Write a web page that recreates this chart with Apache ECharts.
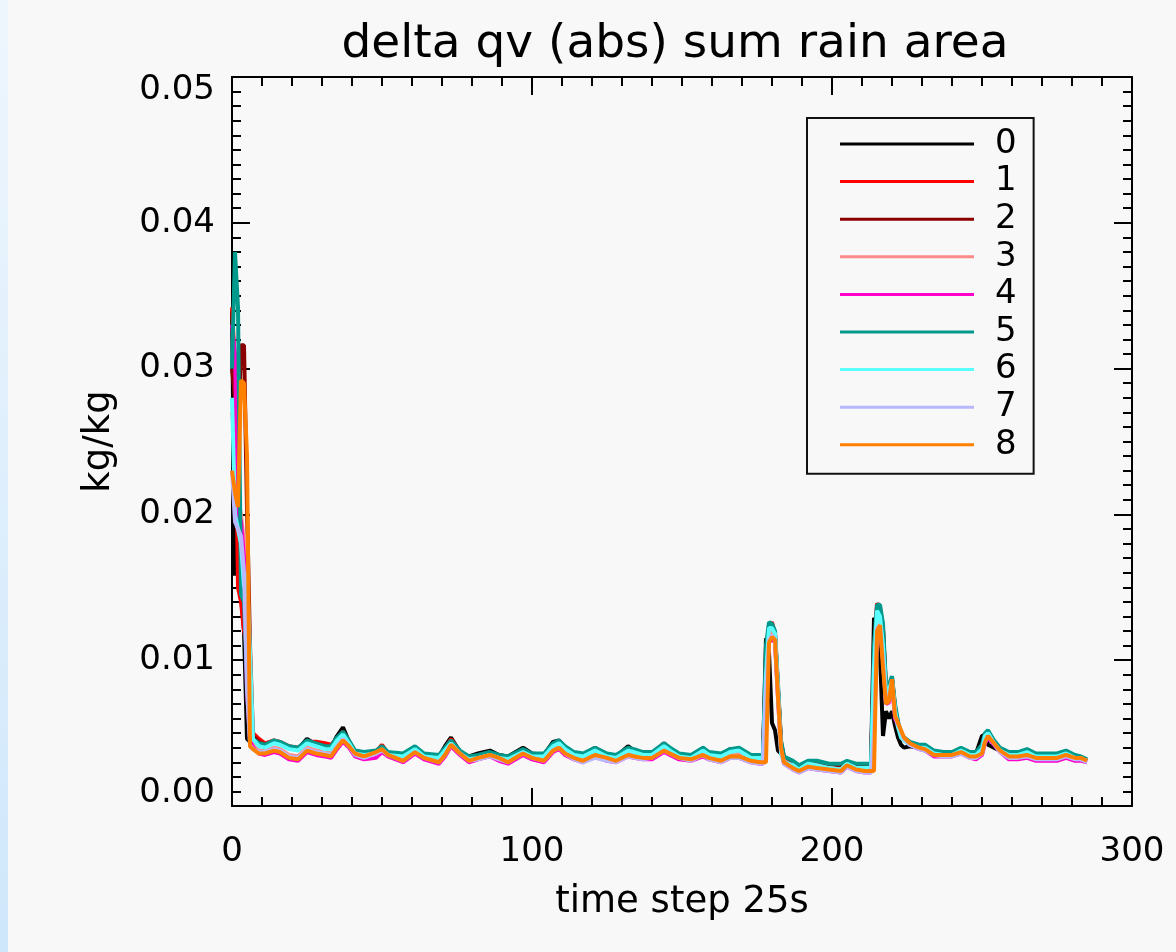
<!DOCTYPE html>
<html>
<head>
<meta charset="utf-8">
<script src="https://cdn.jsdelivr.net/npm/echarts@6/dist/echarts.min.js"></script>
<style>
html,body{margin:0;padding:0;background:#f8f8f8;}
#chart{width:1176px;height:952px;}
</style>
</head>
<body>
<div id="chart"></div>
<script>
// time steps (x values, "time step 25s")
var T = [0,1,2,3,4,5,6,7,
  9,11,14,16,19,22,25,28,31,33,
  35,37,39,41,44,48,50,52,57,61,
  64,69,71,73,76,79,82,86,89,92,
  97,100,104,107,109,111,114,117,121,125,
  128,132,134,137,140,144,146,149,153,157,
  159,163,166,169,173,176,177,178,179,180,
  181,182,183,184,187,189,192,195,199,203,
  205,208,211,213,214,215,216,217,218,219,
  220,221,222,223,224,226,229,231,234,237,
  240,243,246,248,250,251,252,254,256,259,
  262,265,268,272,275,278,281,283,285];

var NAMES = ['0','1','2','3','4','5','6','7','8'];
var COLORS = ['#000000','#ff0000','#8b0000','#ff8a8a','#ff00cc','#00998c','#5cffff','#b8b8ff','#ff7f00'];

var s0 = [.0340,.0158,.0180,.0145,.0120,.0046,.0044,.0043,
  .0042,.0041,.0044,.0043,.0040,.0039,.0046,.0042,.0040,.0040,
  .0048,.0054,.0044,.0037,.0035,.0036,.0040,.0036,.0035,.0040,
  .0035,.0034,.0041,.0047,.0037,.0034,.0036,.0038,.0035,.0034,
  .0040,.0036,.0035,.0044,.0045,.0040,.0036,.0035,.0040,.0035,
  .0034,.0041,.0038,.0036,.0036,.0043,.0039,.0035,.0034,.0039,
  .0036,.0035,.0039,.0039,.0034,.0034,.0034,.0115,.0105,.0057,
  .0052,.0038,.0036,.0033,.0030,.0027,.0030,.0030,.0028,.0028,
  .0030,.0028,.0028,.0029,.0129,.0127,.0105,.0048,.0065,.0060,
  .0065,.0055,.0047,.0042,.0040,.0041,.0040,.0040,.0036,.0036,
  .0036,.0039,.0036,.0036,.0048,.0049,.0042,.0040,.0038,.0036,
  .0036,.0038,.0035,.0035,.0035,.0037,.0034,.0033,.0031];

var s1 = [.0342,.0300,.0150,.0140,.0120,.0110,.0052,.0050,
  .0046,.0043,.0045,.0044,.0041,.0040,.0044,.0044,.0043,.0042,
  .0046,.0051,.0044,.0037,.0035,.0037,.0042,.0036,.0034,.0040,
  .0035,.0034,.0039,.0046,.0037,.0033,.0034,.0036,.0034,.0033,
  .0038,.0035,.0035,.0042,.0044,.0040,.0036,.0035,.0039,.0035,
  .0034,.0039,.0038,.0036,.0036,.0042,.0039,.0035,.0034,.0039,
  .0036,.0035,.0038,.0039,.0034,.0034,.0034,.0100,.0124,.0126,
  .0118,.0080,.0044,.0033,.0029,.0027,.0030,.0029,.0028,.0028,
  .0030,.0028,.0028,.0028,.0105,.0139,.0136,.0122,.0080,.0082,
  .0088,.0068,.0056,.0049,.0046,.0043,.0041,.0041,.0037,.0036,
  .0036,.0039,.0036,.0036,.0041,.0049,.0051,.0044,.0039,.0036,
  .0035,.0037,.0034,.0034,.0034,.0036,.0033,.0032,.0031];

var s2 = [.0300,.0280,.0250,.0316,.0316,.0205,.0110,.0048,
  .0044,.0042,.0044,.0043,.0040,.0039,.0043,.0042,.0041,.0040,
  .0046,.0050,.0043,.0036,.0035,.0036,.0041,.0036,.0034,.0039,
  .0035,.0033,.0039,.0045,.0036,.0033,.0034,.0036,.0034,.0033,
  .0038,.0035,.0035,.0042,.0044,.0039,.0036,.0035,.0038,.0035,
  .0034,.0039,.0037,.0036,.0036,.0042,.0038,.0035,.0034,.0038,
  .0036,.0035,.0038,.0038,.0034,.0034,.0034,.0095,.0122,.0123,
  .0117,.0080,.0043,.0033,.0029,.0027,.0030,.0029,.0028,.0027,
  .0030,.0028,.0028,.0028,.0100,.0135,.0134,.0120,.0080,.0081,
  .0087,.0067,.0056,.0049,.0046,.0043,.0041,.0040,.0037,.0036,
  .0036,.0039,.0036,.0036,.0040,.0048,.0050,.0044,.0039,.0036,
  .0035,.0037,.0034,.0034,.0034,.0036,.0033,.0032,.0031];

var s3 = [.0270,.0250,.0210,.0200,.0180,.0090,.0046,.0042,
  .0038,.0038,.0040,.0039,.0035,.0034,.0040,.0038,.0037,.0036,
  .0042,.0047,.0042,.0037,.0035,.0037,.0040,.0036,.0033,.0038,
  .0034,.0032,.0037,.0043,.0037,.0032,.0033,.0035,.0033,.0031,
  .0037,.0034,.0032,.0039,.0041,.0037,.0034,.0032,.0036,.0034,
  .0032,.0036,.0035,.0034,.0034,.0039,.0037,.0034,.0033,.0036,
  .0034,.0032,.0035,.0035,.0032,.0031,.0031,.0085,.0118,.0119,
  .0116,.0078,.0040,.0031,.0027,.0025,.0028,.0027,.0026,.0025,
  .0029,.0026,.0025,.0025,.0060,.0125,.0128,.0110,.0075,.0076,
  .0086,.0064,.0056,.0050,.0045,.0042,.0040,.0039,.0036,.0035,
  .0035,.0037,.0034,.0034,.0037,.0045,.0049,.0043,.0038,.0034,
  .0034,.0035,.0033,.0033,.0033,.0035,.0032,.0032,.0030];

var s4 = [.0330,.0310,.0200,.0195,.0170,.0080,.0045,.0040,
  .0036,.0035,.0037,.0036,.0032,.0031,.0037,.0035,.0034,.0033,
  .0039,.0044,.0040,.0034,.0032,.0033,.0037,.0034,.0030,.0036,
  .0032,.0029,.0034,.0041,.0035,.0030,.0032,.0034,.0031,.0029,
  .0035,.0032,.0030,.0037,.0039,.0035,.0032,.0030,.0034,.0031,
  .0030,.0034,.0033,.0032,.0032,.0037,.0035,.0032,.0031,.0034,
  .0032,.0030,.0033,.0033,.0030,.0029,.0029,.0080,.0112,.0115,
  .0112,.0074,.0038,.0029,.0025,.0023,.0026,.0025,.0024,.0023,
  .0027,.0024,.0023,.0023,.0050,.0120,.0123,.0100,.0070,.0071,
  .0084,.0060,.0055,.0050,.0046,.0042,.0039,.0038,.0034,.0034,
  .0034,.0036,.0033,.0032,.0035,.0043,.0047,.0042,.0037,.0032,
  .0032,.0033,.0031,.0031,.0031,.0033,.0031,.0031,.0030];

var s5 = [.0300,.0380,.0342,.0145,.0140,.0090,.0047,.0046,
  .0043,.0042,.0045,.0044,.0041,.0040,.0045,.0043,.0041,.0041,
  .0047,.0051,.0045,.0038,.0037,.0038,.0041,.0037,.0036,.0041,
  .0036,.0035,.0040,.0045,.0038,.0034,.0035,.0037,.0035,.0034,
  .0039,.0036,.0036,.0043,.0045,.0041,.0037,.0036,.0040,.0036,
  .0035,.0040,.0039,.0037,.0037,.0043,.0040,.0036,.0035,.0040,
  .0037,.0036,.0039,.0040,.0035,.0035,.0035,.0110,.0126,.0125,
  .0120,.0084,.0045,.0034,.0031,.0028,.0031,.0031,.0029,.0029,
  .0031,.0029,.0029,.0029,.0110,.0138,.0138,.0125,.0083,.0083,
  .0089,.0070,.0058,.0050,.0047,.0044,.0042,.0042,.0038,.0037,
  .0037,.0040,.0037,.0037,.0042,.0050,.0052,.0045,.0040,.0037,
  .0037,.0039,.0036,.0036,.0036,.0038,.0035,.0034,.0032];

var s6 = [.0280,.0200,.0190,.0180,.0150,.0160,.0105,.0046,
  .0041,.0040,.0043,.0042,.0039,.0038,.0043,.0041,.0039,.0039,
  .0045,.0049,.0043,.0036,.0035,.0036,.0039,.0035,.0034,.0039,
  .0034,.0033,.0038,.0043,.0036,.0032,.0033,.0035,.0033,.0032,
  .0037,.0034,.0034,.0041,.0043,.0039,.0035,.0034,.0038,.0034,
  .0033,.0038,.0037,.0035,.0035,.0041,.0038,.0034,.0033,.0038,
  .0035,.0034,.0037,.0038,.0033,.0033,.0033,.0090,.0122,.0122,
  .0118,.0080,.0036,.0030,.0028,.0025,.0029,.0028,.0026,.0025,
  .0029,.0026,.0026,.0026,.0095,.0134,.0130,.0110,.0078,.0080,
  .0086,.0066,.0054,.0047,.0045,.0042,.0040,.0040,.0036,.0035,
  .0035,.0038,.0035,.0035,.0039,.0048,.0050,.0043,.0038,.0035,
  .0035,.0037,.0034,.0034,.0034,.0036,.0033,.0032,.0031];

var s7 = [.0230,.0195,.0190,.0185,.0160,.0080,.0042,.0039,
  .0037,.0037,.0039,.0038,.0034,.0033,.0039,.0037,.0036,.0035,
  .0041,.0046,.0041,.0035,.0033,.0036,.0038,.0035,.0031,.0037,
  .0033,.0030,.0035,.0042,.0036,.0031,.0032,.0034,.0032,.0030,
  .0036,.0033,.0031,.0038,.0040,.0036,.0032,.0030,.0033,.0031,
  .0030,.0034,.0033,.0032,.0033,.0038,.0036,.0033,.0031,.0035,
  .0032,.0030,.0033,.0033,.0030,.0029,.0029,.0080,.0114,.0117,
  .0114,.0076,.0039,.0029,.0025,.0023,.0026,.0025,.0024,.0023,
  .0027,.0024,.0023,.0023,.0050,.0122,.0124,.0100,.0072,.0074,
  .0086,.0062,.0056,.0051,.0046,.0042,.0039,.0038,.0035,.0034,
  .0034,.0036,.0033,.0033,.0036,.0044,.0048,.0043,.0037,.0033,
  .0033,.0034,.0032,.0032,.0032,.0034,.0032,.0032,.0030];

var s8 = [.0230,.0215,.0205,.0292,.0290,.0240,.0041,.0039,
  .0036,.0036,.0038,.0037,.0033,.0032,.0038,.0036,.0035,.0034,
  .0040,.0045,.0041,.0036,.0034,.0037,.0039,.0035,.0031,.0037,
  .0033,.0030,.0035,.0042,.0036,.0031,.0033,.0035,.0033,.0030,
  .0036,.0033,.0031,.0038,.0040,.0036,.0033,.0031,.0035,.0033,
  .0031,.0035,.0034,.0033,.0033,.0038,.0036,.0033,.0032,.0035,
  .0033,.0031,.0034,.0034,.0031,.0030,.0030,.0030,.0112,.0116,
  .0114,.0075,.0040,.0030,.0026,.0024,.0027,.0026,.0025,.0024,
  .0028,.0025,.0024,.0024,.0024,.0120,.0124,.0095,.0070,.0072,
  .0087,.0062,.0057,.0052,.0047,.0043,.0040,.0039,.0035,.0035,
  .0035,.0037,.0034,.0034,.0036,.0044,.0048,.0043,.0038,.0034,
  .0034,.0035,.0033,.0033,.0033,.0035,.0033,.0033,.0031];

var SERIES_VALUES = [s0,s1,s2,s3,s4,s5,s6,s7,s8];

var X_TICKS = [0,100,200,300];
var Y_TICKS = [0.00,0.01,0.02,0.03,0.04,0.05];

var FONT = 'DejaVu Sans';

function pairs(vals){ return T.map(function(t,i){ return [t, vals[i]]; }); }

var series = SERIES_VALUES.map(function(vals, k){
  return {
    name: NAMES[k], type: 'line', data: pairs(vals),
    showSymbol: false, symbol: 'none',
    lineStyle: {color: COLORS[k], width: 4},
    itemStyle: {color: COLORS[k]},
    emphasis: {disabled: true},
    animation: false
  };
});

var chart = echarts.init(document.getElementById('chart'), null, {renderer: 'canvas'});
var tickStyle = {color: '#000', width: 2};
var lbl = {fontFamily: FONT, fontSize: 34, color: '#000'};

function minor(){ return {show: true, splitNumber: 10, length: 9, lineStyle: tickStyle}; }
function line(){ return {show: true, onZero: false, lineStyle: {color: '#000', width: 2}}; }
function tick(){ return {show: true, inside: true, length: 18, lineStyle: tickStyle}; }

chart.setOption({
  backgroundColor: '#f8f8f8',
  animation: false,
  graphic: [
    {type: 'rect', left: 0, top: 0, shape: {width: 8, height: 952}, silent: true,
     style: {fill: new echarts.graphic.LinearGradient(0,0,0,1,[{offset:0,color:'#eef6fd'},{offset:1,color:'#cfe7fb'}])}},
    {type: 'text', x: 675, y: 21, silent: true,
     style: {text: 'delta qv (abs) sum rain area', fontFamily: FONT, fontSize: 47, fill: '#000', textAlign: 'center', textVerticalAlign: 'top'}}
  ],
  grid: {left: 232, top: 77, width: 900, height: 729, containLabel: false},
  legend: {
    data: NAMES, orient: 'vertical', left: 807, top: 118,
    padding: [9, 17, 12, 33], itemGap: 3.6, itemWidth: 134, itemHeight: 3,
    icon: 'rect', borderColor: '#111', borderWidth: 2, selectedMode: false,
    textStyle: {fontFamily: FONT, fontSize: 34, color: '#000', padding: [0,0,0,16]}
  },
  xAxis: [
    {type: 'value', position: 'bottom', min: X_TICKS[0], max: X_TICKS[X_TICKS.length-1], interval: 100,
     name: 'time step 25s', nameLocation: 'middle', nameGap: 78,
     nameTextStyle: {fontFamily: FONT, fontSize: 37, color: '#000'},
     axisLine: line(), axisTick: tick(), minorTick: minor(),
     splitLine: {show: false},
     axisLabel: Object.assign({margin: 29}, lbl)},
    {type: 'value', position: 'top', min: 0, max: 300, interval: 100,
     axisLine: line(), axisTick: tick(), minorTick: minor(),
     splitLine: {show: false}, axisLabel: {show: false}}
  ],
  yAxis: [
    {type: 'value', position: 'left', min: 0, max: 0.05, interval: 0.01,
     name: 'kg/kg', nameLocation: 'middle', nameGap: 114,
     nameTextStyle: {fontFamily: FONT, fontSize: 37, color: '#000'},
     axisLine: line(), axisTick: tick(), minorTick: minor(),
     splitLine: {show: false},
     axisLabel: Object.assign({margin: 17,
       formatter: function(v){
         var s = v.toFixed(2);
         if (Math.abs(v - Y_TICKS[Y_TICKS.length-1]) < 1e-9) return '{t|' + s + '}';
         if (Math.abs(v - Y_TICKS[0]) < 1e-9) return '{b|' + s + '}';
         return s;
       },
       rich: {
         t: {fontFamily: FONT, fontSize: 34, color: '#000', padding: [26,0,0,0]},
         b: {fontFamily: FONT, fontSize: 34, color: '#000', padding: [0,0,26,0]}
       }}, lbl)},
    {type: 'value', position: 'right', min: 0, max: 0.05, interval: 0.01,
     axisLine: line(), axisTick: tick(), minorTick: minor(),
     splitLine: {show: false}, axisLabel: {show: false}}
  ],
  series: series
});
</script>
</body>
</html>
